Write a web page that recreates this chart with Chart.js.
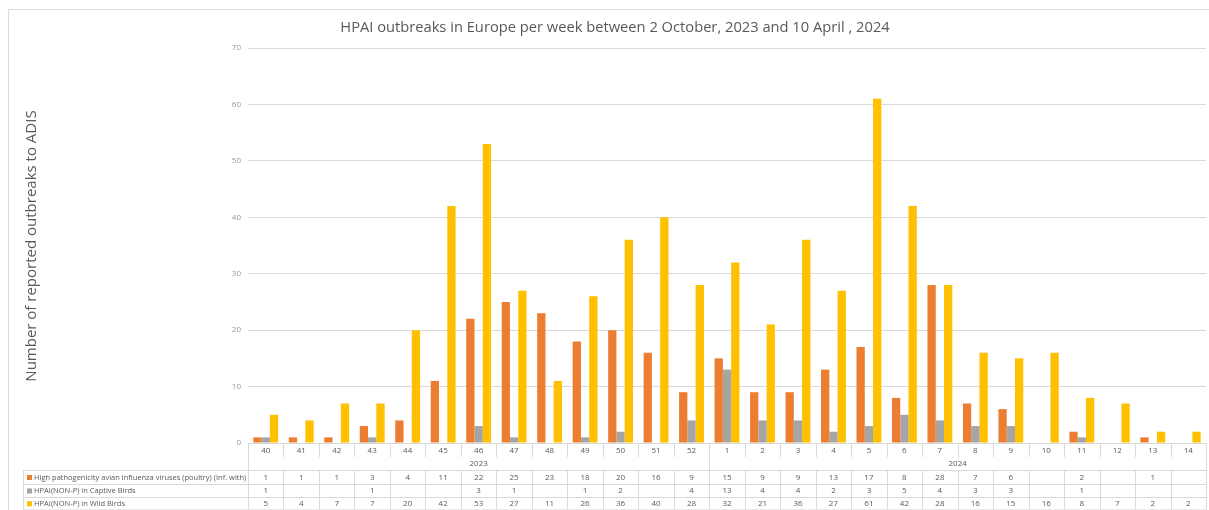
<!DOCTYPE html>
<html>
<head>
<meta charset="utf-8">
<script src="https://cdn.jsdelivr.net/npm/chart.js@4.4.1/dist/chart.umd.min.js"></script>
<style>
  html, body { margin: 0; padding: 0; background: #fff; }
  #wrap { width: 1209px; height: 510px; position: relative; }
</style>
</head>
<body>
<div id="wrap"><canvas id="hpaiChart"></canvas></div>
<script>
// semanas (2023: 40-52, 2024: 1-14)
const weeks = ['40','41','42','43','44','45','46','47','48','49','50','51','52','1','2','3','4','5','6','7','8','9','10','11','12','13','14'];
const years = [{ label: '2023', from: 0, to: 12 }, { label: '2024', from: 13, to: 26 }];

const poultry = [1, 1, 1, 3, 4, 11, 22, 25, 23, 18, 20, 16, 9, 15, 9, 9, 13, 17, 8, 28, 7, 6, null, 2, null, 1, null];
const captive = [1, null, null, 1, null, null, 3, 1, null, 1, 2, null, 4, 13, 4, 4, 2, 3, 5, 4, 3, 3, null, 1, null, null, null];
const wild = [5, 4, 7, 7, 20, 42, 53, 27, 11, 26, 36, 40, 28, 32, 21, 36, 27, 61, 42, 28, 16, 15, 16, 8, 7, 2, 2];

const seriesNames = [
    'High pathogenicity avian influenza viruses (poultry) (Inf. with)',
    'HPAI(NON-P) in Captive Birds',
    'HPAI(NON-P) in Wild Birds'
];
const colors = ['#ED7D31', '#A5A5A5', '#FFC000'];

const titleText = 'HPAI outbreaks in Europe per week between 2 October, 2023 and 10 April , 2024';
const yTitle = 'Number of reported outbreaks to ADIS';

const textColor = '#595959';
const lineColor = '#D9D9D9';
const fontFam = '"Open Sans", sans-serif';

// Tabla de datos + títulos dibujados a mano
const tablePlugin = {
    id: 'tablePlugin',
    afterDraw(chart) {
        const ctx = chart.ctx;
        const area = chart.chartArea;
        const x = chart.scales.x;
        const cw = (area.right - area.left) / weeks.length;
        const top = area.bottom;
        const rows = [470, 484, 497, 509.5];
        const legLeft = 23;

        ctx.save();
        // marco exterior
        ctx.strokeStyle = lineColor;
        ctx.lineWidth = 1;
        ctx.beginPath();
        ctx.moveTo(8.5, 510); ctx.lineTo(8.5, 9.5); ctx.lineTo(1209, 9.5);
        ctx.stroke();

        // título
        ctx.fillStyle = textColor;
        ctx.font = '14.7px ' + fontFam;
        ctx.textAlign = 'center';
        ctx.textBaseline = 'middle';
        ctx.fillText(titleText, 615, 28);

        // título eje Y
        ctx.save();
        ctx.translate(32, 246);
        ctx.rotate(-Math.PI / 2);
        ctx.font = '15px ' + fontFam;
        ctx.fillText(yTitle, 0, 0);
        ctx.restore();

        // líneas de la tabla
        ctx.beginPath();
        for (let i = 0; i <= weeks.length; i++) {
            const bx = Math.round(area.left + i * cw) + 0.5;
            const isYearEdge = i === 0 || i === 13 || i === weeks.length;
            ctx.moveTo(bx, top);
            ctx.lineTo(bx, isYearEdge ? rows[0] : 457);
            ctx.moveTo(bx, rows[0]);
            ctx.lineTo(bx, rows[3]);
        }
        rows.forEach(ry => {
            ctx.moveTo(legLeft, ry + 0.5);
            ctx.lineTo(area.right, ry + 0.5);
        });
        ctx.moveTo(legLeft + 0.5, rows[0]);
        ctx.lineTo(legLeft + 0.5, rows[3]);
        ctx.stroke();

        // semanas
        ctx.font = '8px ' + fontFam;
        ctx.fillStyle = textColor;
        weeks.forEach((w, i) => {
            ctx.fillText(w, x.getPixelForValue(i), 451);
        });
        // años
        years.forEach(y => {
            const l = area.left + y.from * cw;
            const r = area.left + (y.to + 1) * cw;
            ctx.fillText(y.label, (l + r) / 2, 464);
        });
        // filas de datos
        const all = [poultry, captive, wild];
        all.forEach((data, r) => {
            const cy = (rows[r] + rows[r + 1]) / 2 + 0.5;
            ctx.font = '8px ' + fontFam;
            ctx.textAlign = 'center';
            data.forEach((v, i) => {
                if (v !== null) ctx.fillText(String(v), x.getPixelForValue(i), cy);
            });
            ctx.fillStyle = colors[r];
            ctx.fillRect(legLeft + 4, cy - 2.5, 5, 5);
            ctx.fillStyle = textColor;
            ctx.textAlign = 'left';
            ctx.font = '7.5px ' + fontFam;
            ctx.fillText(seriesNames[r], legLeft + 11, cy);
        });
        ctx.restore();
    }
};

const chartCtx = document.getElementById('hpaiChart').getContext('2d');
const hpaiChart = new Chart(chartCtx, {
    type: 'bar',
    data: {
        labels: weeks,
        datasets: [
            { label: seriesNames[0], data: poultry, backgroundColor: colors[0] },
            { label: seriesNames[1], data: captive, backgroundColor: colors[1] },
            { label: seriesNames[2], data: wild, backgroundColor: colors[2] }
        ]
    },
    options: {
        responsive: true,
        maintainAspectRatio: false,
        animation: false,
        layout: { padding: { left: 208, right: 3, top: 48, bottom: 67 } },
        datasets: { bar: { categoryPercentage: 0.7, barPercentage: 1, borderWidth: 0 } },
        plugins: {
            legend: { display: false },
            tooltip: { enabled: false },
            title: { display: false }
        },
        scales: {
            x: {
                ticks: { display: false },
                grid: { display: false },
                border: { display: false },
                afterFit: s => { s.height = 0; }
            },
            y: {
                min: 0,
                max: 70,
                ticks: { stepSize: 10, color: '#999', font: { size: 8, family: fontFam }, padding: 7 },
                grid: { color: lineColor, drawTicks: false },
                border: { display: false },
                afterFit: s => { s.width = 40; }
            }
        }
    },
    plugins: [tablePlugin]
});
</script>
</body>
</html>
